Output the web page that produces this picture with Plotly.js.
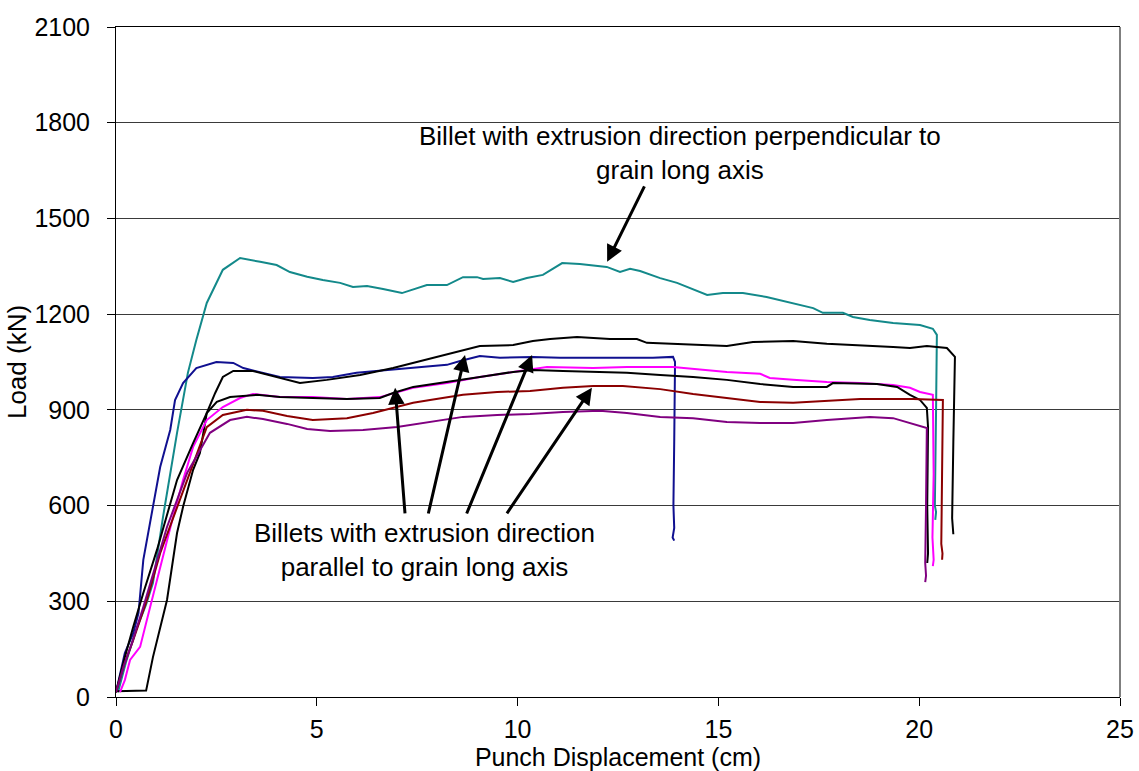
<!DOCTYPE html>
<html>
<head>
<meta charset="utf-8">
<script src="https://cdn.plot.ly/plotly-3.0.1.min.js"></script>
<style>
  html, body { margin: 0; padding: 0; background: #fff; }
  #chart { width: 1139px; height: 771px; }
</style>
</head>
<body>
<div id="chart"></div>
<script>
// Punch load vs. displacement for extruded billets

// Billet extruded perpendicular to grain long axis
const perpX = [0.05,0.25,0.5,0.75,0.92,1.17,1.52,1.79,2.0,2.26,2.66,3.09,3.59,4.0,4.33,4.76,5.15,5.58,5.9,6.25,6.65,7.12,7.74,8.24,8.64,8.99,9.14,9.56,9.89,10.23,10.63,11.11,11.55,11.98,12.22,12.55,12.8,13.05,13.55,13.97,14.72,15.11,15.61,16.2,16.86,17.36,17.6,18.1,18.35,18.77,19.35,20.02,20.34,20.44,20.42,20.39,20.42,20.40];
const perpY = [15,110,210,290,357,564,828,1016,1119,1235,1339,1376,1364,1354,1332,1317,1307,1298,1285,1288,1279,1266,1291,1291,1316,1316,1310,1313,1301,1313,1323,1360,1357,1351,1348,1332,1342,1335,1313,1298,1260,1266,1266,1254,1235,1219,1204,1204,1191,1182,1172,1166,1154,1135,900,600,580,555];

// Billets extruded parallel to grain long axis
const blueX = [0,0.22,0.43,0.56,0.68,0.93,1.1,1.35,1.47,1.67,2.0,2.5,2.92,3.17,3.59,4.08,4.9,5.4,5.99,6.57,7.25,7.89,8.24,8.57,9.06,9.56,10.38,11.06,12.05,12.72,13.37,13.87,13.92,13.9,13.88,13.9,13.86,13.9];
const blueY = [15,138,200,263,430,596,721,837,931,984,1031,1050,1047,1031,1019,1003,1000,1003,1016,1022,1031,1038,1041,1053,1069,1063,1066,1063,1063,1063,1063,1066,1050,800,600,530,500,490];

const blackAX = [0,0.4,0.75,0.92,1.27,1.52,1.67,1.92,2.09,2.26,2.47,2.66,2.92,3.41,4.0,4.58,5.25,6.08,6.9,7.4,8.14,9.06,9.89,10.38,10.81,11.48,12.3,12.97,13.22,14.37,15.21,15.86,16.86,17.7,18.53,19.35,19.77,20.19,20.69,20.89,20.85,20.82,20.85];
const blackAY = [18,18,20,125,304,514,596,712,765,890,953,1003,1022,1022,1003,984,994,1009,1031,1047,1072,1100,1103,1116,1122,1128,1122,1122,1110,1103,1100,1113,1116,1107,1103,1097,1094,1100,1094,1066,800,560,510];

const blackBX = [0,0.22,0.43,0.68,1.02,1.52,1.92,2.26,2.51,2.84,3.51,4.08,4.9,5.75,6.57,6.9,7.4,8.24,9.06,9.89,10.38,11.13,12.05,12.72,13.55,14.37,15.21,16.04,16.86,17.7,17.85,18.95,19.45,19.77,20.02,20.19,20.22,20.2,20.22,20.2];
const blackBY = [15,125,220,326,461,680,796,890,925,940,947,940,937,934,937,953,972,987,1003,1019,1025,1022,1019,1016,1009,1003,994,981,972,972,984,981,972,947,931,906,846,600,450,420];

const pinkX = [0.1,0.22,0.35,0.6,0.85,1.1,1.42,1.67,1.92,2.26,2.66,3.09,3.41,4.08,4.9,5.75,6.57,7.4,8.24,9.06,9.89,10.73,11.88,12.72,13.87,15.21,16.04,16.28,16.86,17.7,18.53,19.35,19.77,20.02,20.34,20.36,20.33,20.36,20.34];
const pinkY = [15,53,116,157,282,408,564,680,784,868,909,937,950,940,940,934,940,969,984,1003,1019,1034,1031,1034,1034,1019,1013,1000,994,987,984,978,969,956,947,700,500,430,410];

const redX = [0,0.2,0.43,0.77,1.1,1.52,1.89,2.26,2.66,3.26,3.66,4.26,4.9,5.75,6.4,6.9,7.4,7.82,8.64,9.49,10.31,11.13,11.88,12.62,13.55,14.37,15.21,16.04,16.86,17.7,18.53,19.35,19.85,20.59,20.57,20.55,20.58,20.57];
const redY = [15,100,179,304,451,596,721,846,884,900,897,881,868,874,890,906,922,931,947,956,959,969,975,975,965,950,937,925,922,928,934,934,934,931,700,480,450,430];

const purpleX = [0,0.2,0.4,0.68,1.27,1.77,2.34,2.84,3.26,3.66,4.26,4.76,5.33,6.15,7.0,7.82,8.64,9.49,10.31,11.13,12.05,12.72,13.55,14.37,15.21,16.04,16.86,17.7,18.27,18.77,19.35,19.77,20.19,20.17,20.15,20.17,20.15];
const purpleY = [15,100,170,282,533,702,828,868,878,871,856,840,834,837,846,862,878,884,887,893,897,890,878,874,862,859,859,868,874,878,874,859,843,600,420,380,360];

// Axis ticks
const xTicks = [0,5,10,15,20,25];
const yTicks = [0,300,600,900,1200,1500,1800,2100];

// Callout labels and the points their arrows touch
const perpLabel = 'Billet with extrusion direction perpendicular to<br>grain long axis';
const parLabel = 'Billets with extrusion direction<br>parallel to grain long axis';
const perpArrowX = [12.23];
const perpArrowY = [1364];
const parArrowX = [6.95, 8.69, 10.36, 11.85];
const parArrowY = [969, 1072, 1072, 969];

const FONT = 'Arial, "Liberation Sans", sans-serif';

function series(x, y, color) {
  return { x: x, y: y, type: 'scatter', mode: 'lines', line: { color: color, width: 2 }, hoverinfo: 'skip' };
}

const data = [
  series(perpX, perpY, '#13898a'),
  series(blueX, blueY, '#101090'),
  series(blackAX, blackAY, '#000000'),
  series(pinkX, pinkY, '#ff00ff'),
  series(blackBX, blackBY, '#000000'),
  series(redX, redY, '#8b0000'),
  series(purpleX, purpleY, '#800080')
];

// Arrow tails, in pixels from each arrow tip
const perpOffsets = [[38, -77]];
const parOffsets = [[10, 127], [-37, 160], [-66, 160], [-86, 127]];

const arrowStyle = { arrowhead: 2, arrowsize: 1.1, arrowwidth: 3, arrowcolor: '#000' };
const arrows = [];
perpArrowX.forEach((x, i) => arrows.push(Object.assign({
  x: x, y: perpArrowY[i], xref: 'x', yref: 'y', text: '', showarrow: true,
  ax: perpOffsets[i][0], ay: perpOffsets[i][1]
}, arrowStyle)));
parArrowX.forEach((x, i) => arrows.push(Object.assign({
  x: x, y: parArrowY[i], xref: 'x', yref: 'y', text: '', showarrow: true,
  ax: parOffsets[i][0], ay: parOffsets[i][1]
}, arrowStyle)));

const labels = [
  { x: 14.04, y: 1705, xref: 'x', yref: 'y', text: perpLabel, showarrow: false,
    font: { family: FONT, size: 26, color: '#000' }, align: 'center' },
  { x: 7.67, y: 461, xref: 'x', yref: 'y', text: parLabel, showarrow: false,
    font: { family: FONT, size: 26, color: '#000' }, align: 'center' }
];

const layout = {
  width: 1139, height: 771,
  margin: { l: 116, r: 19, t: 27, b: 74, pad: 0 },
  paper_bgcolor: '#ffffff', plot_bgcolor: '#ffffff',
  showlegend: false,
  font: { family: FONT, size: 25, color: '#000' },
  xaxis: {
    range: [0, 25], tickvals: xTicks, ticktext: xTicks.map(String),
    showgrid: false, zeroline: false,
    showline: true, linecolor: '#000', linewidth: 1, mirror: true,
    ticks: 'outside', ticklen: 8, tickcolor: '#000', ticklabelstandoff: 2,
    tickfont: { family: FONT, size: 25, color: '#000' },
    title: { text: 'Punch Displacement (cm)', standoff: 4, font: { family: FONT, size: 25, color: '#000' } }
  },
  yaxis: {
    range: [0, 2100], tickvals: yTicks, ticktext: yTicks.map(String),
    showgrid: true, gridcolor: '#3a3a3a', gridwidth: 1, zeroline: false,
    showline: true, linecolor: '#000', linewidth: 1,
    ticks: 'outside', ticklen: 8, tickcolor: '#000', ticklabelstandoff: 12,
    tickfont: { family: FONT, size: 25, color: '#000' },
    title: { text: 'Load (kN)', standoff: 0, font: { family: FONT, size: 26, color: '#000' } }
  },
  shapes: [
    { type: 'line', xref: 'paper', yref: 'paper', x0: 1, x1: 1, y0: 0, y1: 1,
      line: { color: '#7f7f7f', width: 2 } }
  ],
  annotations: arrows.concat(labels)
};

Plotly.newPlot('chart', data, layout, { staticPlot: true, displayModeBar: false });
</script>
</body>
</html>
